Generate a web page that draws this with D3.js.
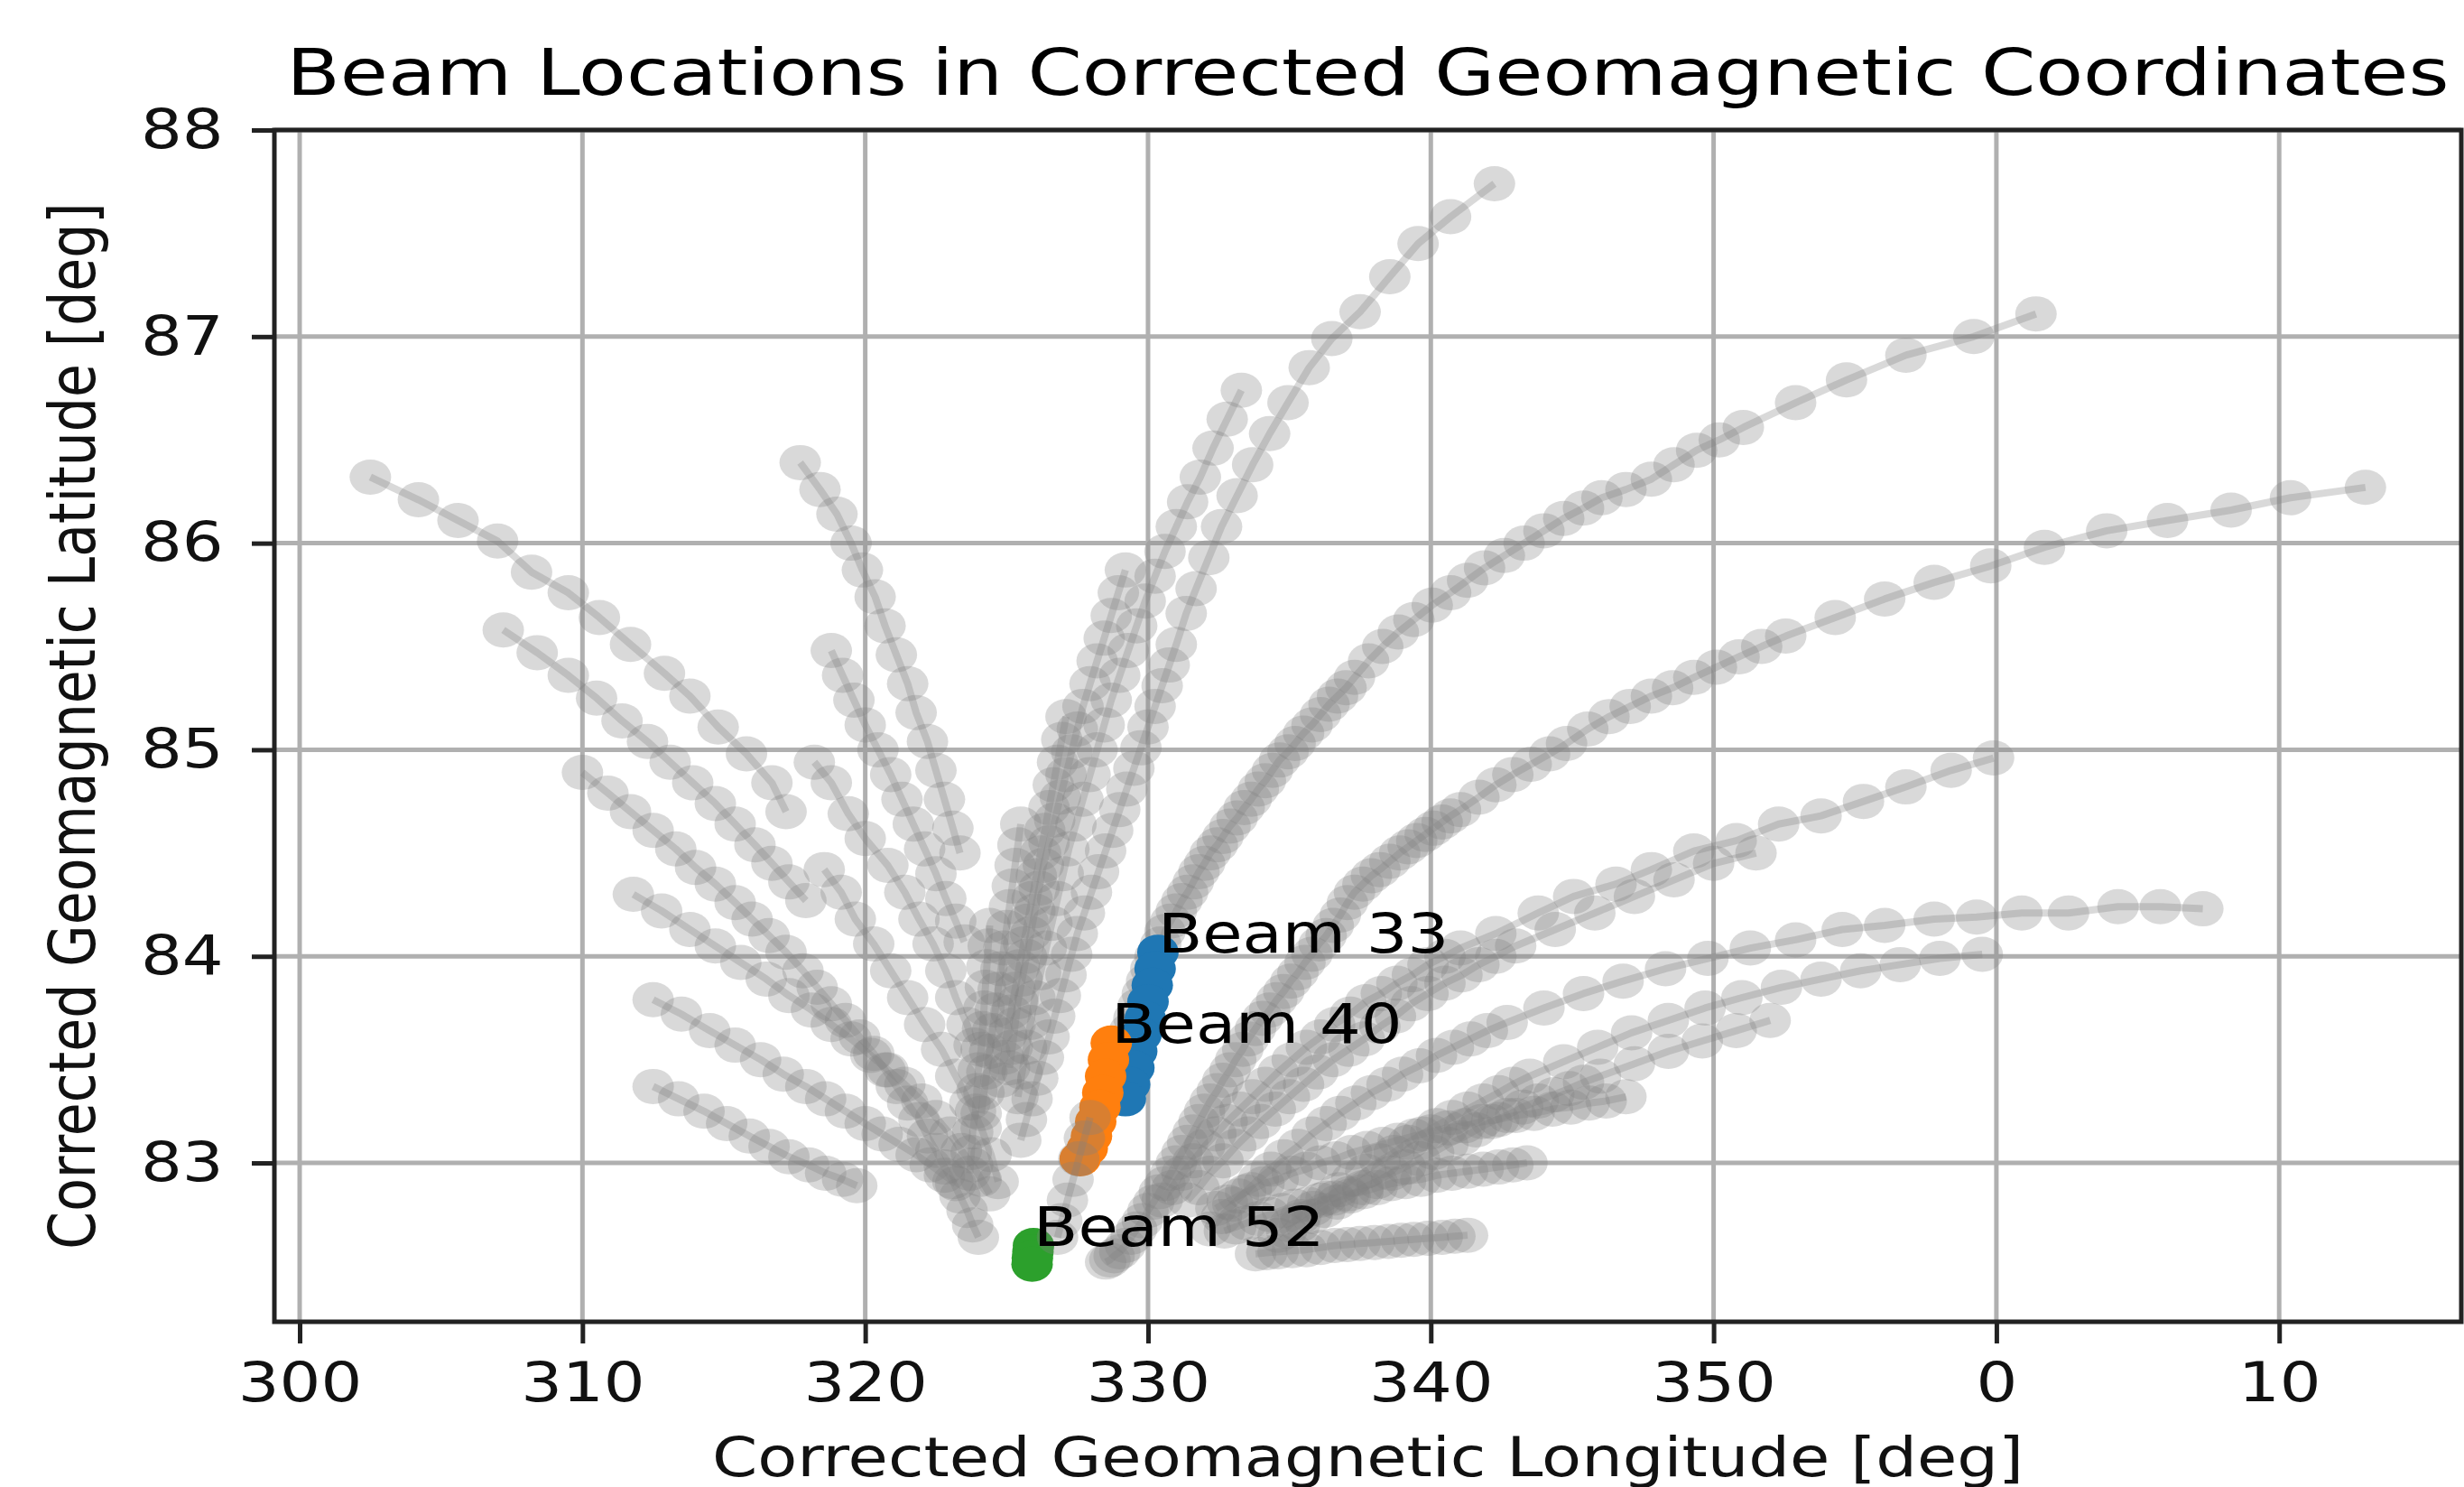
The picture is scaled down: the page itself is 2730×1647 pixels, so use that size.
<!DOCTYPE html>
<html>
<head>
<meta charset="utf-8">
<script src="https://cdn.jsdelivr.net/npm/d3@7"></script>
<style>
  body { margin: 0; background: #fff; }
  svg { display: block; }
</style>
</head>
<body>
<div id="chart"></div>
<script>
// tick values (longitude wraps past 360 -> 0, 10)
const xTicks = [300, 310, 320, 330, 340, 350, 360, 370];
const yTicks = [83, 84, 85, 86, 87, 88];

// gray beam tracks, [lon, lat]
const leftTrack1 = [[302.5,86.32],[304.2,86.21],[305.6,86.11],[307.0,86.01],[308.2,85.86],[309.5,85.76],[310.6,85.64],[311.7,85.51],[312.9,85.37],[313.8,85.26],[314.8,85.11],[315.8,84.98],[316.7,84.84],[317.2,84.70]];
const leftTrack2 = [[307.2,85.58],[308.4,85.47],[309.5,85.36],[310.5,85.25],[311.4,85.14],[312.3,85.04],[313.1,84.94],[313.9,84.84],[314.7,84.74],[315.4,84.64],[316.1,84.54],[316.7,84.45],[317.3,84.36],[317.9,84.27]];
const leftTrack3 = [[310.0,84.89],[310.9,84.79],[311.7,84.70],[312.5,84.61],[313.3,84.52],[314.0,84.43],[314.7,84.35],[315.4,84.26],[316.0,84.18],[316.6,84.10],[317.2,84.02],[317.8,83.93],[318.3,83.85],[318.8,83.77],[319.3,83.69],[319.8,83.61],[320.3,83.53],[320.7,83.45],[321.1,83.37],[321.5,83.29],[321.9,83.21],[322.2,83.13],[322.5,83.06],[322.8,82.98],[323.1,82.91],[323.35,82.84],[323.6,82.77],[323.8,82.70],[324.0,82.64]];
const leftTrack4 = [[311.8,84.30],[312.8,84.22],[313.8,84.13],[314.7,84.05],[315.6,83.97],[316.5,83.89],[317.3,83.81],[318.1,83.74],[318.8,83.67],[319.5,83.60],[320.2,83.52],[320.8,83.45],[321.4,83.38],[322.0,83.30],[322.5,83.22],[323.0,83.14],[323.4,83.06],[323.8,82.99],[324.1,82.92],[324.4,82.85]];
const leftTrack5 = [[312.5,83.79],[313.5,83.72],[314.5,83.64],[315.4,83.57],[316.3,83.50],[317.1,83.43],[317.9,83.37],[318.6,83.31],[319.3,83.25],[320.0,83.19],[320.6,83.14],[321.2,83.09],[321.8,83.04],[322.3,82.99],[322.8,82.94],[323.2,82.90]];
const leftTrack6 = [[312.5,83.37],[313.4,83.31],[314.3,83.25],[315.1,83.19],[315.9,83.13],[316.6,83.08],[317.3,83.03],[318.0,82.99],[318.6,82.95],[319.2,82.92],[319.7,82.89]];

const midTrack1 = [[317.7,86.39],[318.4,86.26],[319.0,86.14],[319.5,86.00],[319.9,85.87],[320.35,85.74],[320.7,85.60],[321.1,85.46],[321.5,85.32],[321.8,85.18],[322.2,85.04],[322.5,84.90],[322.8,84.76],[323.1,84.62],[323.35,84.50]];
const midTrack2 = [[318.8,85.48],[319.2,85.36],[319.6,85.24],[320.0,85.12],[320.45,85.00],[320.9,84.88],[321.3,84.76],[321.7,84.64],[322.1,84.52],[322.5,84.40],[322.85,84.28],[323.2,84.17],[323.5,84.07]];
const midTrack3 = [[318.2,84.94],[318.8,84.84],[319.4,84.69],[320.0,84.57],[320.8,84.44],[321.4,84.31],[321.9,84.18],[322.4,84.06],[322.85,83.93],[323.2,83.80],[323.6,83.67],[323.85,83.57]];
const midTrack4 = [[318.55,84.42],[319.15,84.31],[319.65,84.18],[320.3,84.06],[320.9,83.93],[321.5,83.80],[322.1,83.67],[322.7,83.55],[323.2,83.42],[323.7,83.29],[324.1,83.17],[324.45,83.04],[324.7,82.91]];

const steepTrack1 = [[342.25,87.74],[340.7,87.58],[339.55,87.45],[338.55,87.29],[337.5,87.12],[336.5,86.99],[335.7,86.85],[334.95,86.68],[334.3,86.53],[333.7,86.38],[333.15,86.23],[332.6,86.08],[332.15,85.93],[331.7,85.78],[331.35,85.66],[331.0,85.51],[330.75,85.41],[330.5,85.31],[330.25,85.21],[330.0,85.11],[329.75,85.01],[329.5,84.91],[329.25,84.81],[329.0,84.71],[328.75,84.61],[328.5,84.51],[328.25,84.41],[328.0,84.31],[327.75,84.21],[327.5,84.11],[327.3,84.01],[327.1,83.91],[326.9,83.81],[326.7,83.71],[326.5,83.61],[326.3,83.51],[326.1,83.41],[325.9,83.31],[325.7,83.21],[325.5,83.11]];
const steepTrack2 = [[333.3,86.74],[332.8,86.60],[332.3,86.46],[331.85,86.32],[331.4,86.20],[331.0,86.08],[330.6,85.96],[330.25,85.84],[329.9,85.72],[329.6,85.60],[329.3,85.48],[329.0,85.36],[328.7,85.24],[328.45,85.12],[328.2,85.00],[327.95,84.88],[327.7,84.76],[327.45,84.64],[327.2,84.52],[327.0,84.40],[326.8,84.28],[326.6,84.16],[326.4,84.04],[326.2,83.92],[326.0,83.80],[325.85,83.68],[325.7,83.56],[325.55,83.44],[325.4,83.32]];
const steepTrack3 = [[329.2,85.87],[328.95,85.76],[328.7,85.65],[328.45,85.54],[328.2,85.43],[327.95,85.32],[327.7,85.21],[327.5,85.10],[327.3,84.99],[327.1,84.88],[326.9,84.77],[326.7,84.66],[326.5,84.55],[326.3,84.44],[326.15,84.33],[326.0,84.22],[325.85,84.11],[325.7,84.00],[325.55,83.89],[325.4,83.78],[325.3,83.67],[325.2,83.56],[325.1,83.46]];
const steepTrack4 = [[327.1,85.16],[326.95,85.05],[326.8,84.94],[326.65,84.83],[326.5,84.72],[326.35,84.61],[326.2,84.50],[326.05,84.39],[325.9,84.28],[325.75,84.17],[325.6,84.06],[325.45,83.95],[325.3,83.84],[325.15,83.73],[325.0,83.62],[324.9,83.51],[324.8,83.40]];
const steepTrack5 = [[325.5,84.64],[325.4,84.54],[325.3,84.44],[325.2,84.34],[325.1,84.24],[325.0,84.14],[324.9,84.04],[324.8,83.94],[324.7,83.84],[324.6,83.74],[324.5,83.64],[324.4,83.54],[324.3,83.44],[324.2,83.34],[324.1,83.24]];
const steepTrack6 = [[324.4,84.15],[324.35,84.05],[324.3,83.95],[324.25,83.85],[324.2,83.75],[324.15,83.65],[324.1,83.55],[324.0,83.45],[323.95,83.35],[323.9,83.25],[323.8,83.15],[323.75,83.05],[323.7,82.95]];

const rightTrack1 = [[1.4,87.11],[359.2,87.00],[356.8,86.91],[354.7,86.79],[352.9,86.68],[351.05,86.56],[350.2,86.50],[349.4,86.45],[348.6,86.38],[347.8,86.31],[346.9,86.26],[346.05,86.22],[345.4,86.17],[344.7,86.12],[344.0,86.06],[343.3,86.00],[342.6,85.94],[341.9,85.88],[341.3,85.82],[340.7,85.76],[340.05,85.70],[339.4,85.63],[338.85,85.57],[338.3,85.50],[337.8,85.43],[337.3,85.35],[337.0,85.30],[336.7,85.26],[336.4,85.22],[336.1,85.17],[335.8,85.12],[335.5,85.08],[335.2,85.03],[334.95,84.99],[334.65,84.95],[334.4,84.90],[334.15,84.85],[333.9,84.81],[333.65,84.76],[333.4,84.72],[333.15,84.67],[332.9,84.63],[332.65,84.58],[332.45,84.54],[332.2,84.50],[332.0,84.45],[331.8,84.41],[331.6,84.36],[331.4,84.31],[331.2,84.27],[331.0,84.22],[330.8,84.17],[330.6,84.12],[330.45,84.06],[330.25,84.00],[330.1,83.94],[329.95,83.88],[329.8,83.82],[329.65,83.76],[329.5,83.70],[329.35,83.64],[329.2,83.58],[329.05,83.52],[328.95,83.46]];
const rightTrack2 = [[13.05,86.27],[10.4,86.22],[8.3,86.16],[6.05,86.11],[3.9,86.06],[1.7,85.98],[359.8,85.89],[357.8,85.81],[356.05,85.73],[354.3,85.64],[352.55,85.55],[351.7,85.50],[350.9,85.45],[350.1,85.40],[349.3,85.35],[348.55,85.30],[347.8,85.26],[347.05,85.21],[346.3,85.16],[345.55,85.10],[344.8,85.03],[344.2,84.98],[343.55,84.93],[342.9,84.88],[342.3,84.83],[341.7,84.77],[341.05,84.71],[340.7,84.68],[340.4,84.65],[340.1,84.62],[339.8,84.59],[339.5,84.56],[339.2,84.53],[338.9,84.50],[338.55,84.46],[338.2,84.42],[337.9,84.39],[337.6,84.35],[337.3,84.31],[337.05,84.26],[336.8,84.20],[336.55,84.15],[336.3,84.10],[336.05,84.06],[335.8,84.01],[335.55,83.97],[335.3,83.92],[335.05,83.88],[334.8,83.83],[334.55,83.79],[334.3,83.74],[334.05,83.70],[333.8,83.65],[333.55,83.60],[333.35,83.55],[333.1,83.50],[332.9,83.45],[332.65,83.40],[332.45,83.35],[332.2,83.30],[332.0,83.25],[331.8,83.20],[331.6,83.15],[331.4,83.10],[331.2,83.05],[331.0,83.00],[330.8,82.95],[330.6,82.90],[330.4,82.86],[330.2,82.81],[330.0,82.77],[329.8,82.72],[329.6,82.68],[329.4,82.64],[329.2,82.60],[329.0,82.57],[328.8,82.55],[328.65,82.53],[328.5,82.52]];
const rightTrack3 = [[359.9,84.96],[358.4,84.90],[356.8,84.82],[355.3,84.75],[353.8,84.68],[352.3,84.64],[350.8,84.56],[349.3,84.51],[347.8,84.42],[346.55,84.35],[345.05,84.29],[343.8,84.21],[342.3,84.11],[341.05,84.04],[340.5,84.00],[339.9,83.96],[339.35,83.91],[338.8,83.87],[338.25,83.82],[337.7,83.78],[337.15,83.72],[336.6,83.67],[336.1,83.61],[335.6,83.56],[335.1,83.50],[334.6,83.44],[334.15,83.38],[333.7,83.32],[333.25,83.26],[332.8,83.20],[332.4,83.14],[332.0,83.08],[331.6,83.01],[331.2,82.95],[330.85,82.88],[330.5,82.82]];
const rightTrack4 = [[351.5,84.50],[350.0,84.45],[348.6,84.37],[347.2,84.29],[345.8,84.21],[344.4,84.13],[343.0,84.05],[342.3,84.00],[341.7,83.96],[341.1,83.91],[340.5,83.87],[339.9,83.82],[339.3,83.77],[338.75,83.71],[338.2,83.66],[337.65,83.60],[337.1,83.55],[336.55,83.50],[336.0,83.44],[335.5,83.38],[335.0,83.32],[334.5,83.26],[334.0,83.20],[333.55,83.14],[333.1,83.08],[332.65,83.01],[332.2,82.95],[331.8,82.88],[331.4,82.82]];
const rightTrack5 = [[7.3,84.23],[5.8,84.24],[4.3,84.24],[2.55,84.21],[0.9,84.21],[359.3,84.19],[357.8,84.18],[356.05,84.15],[354.55,84.13],[352.9,84.08],[351.3,84.04],[349.8,83.99],[348.3,83.94],[346.8,83.88],[345.4,83.82],[344.0,83.75],[342.7,83.68],[342.0,83.64],[341.4,83.60],[340.8,83.56],[340.2,83.52],[339.6,83.47],[339.0,83.43],[338.45,83.38],[337.9,83.34],[337.35,83.29],[336.8,83.24],[336.3,83.19],[335.8,83.14],[335.3,83.08],[334.8,83.03],[334.35,82.97],[333.9,82.92],[333.45,82.86],[333.0,82.80],[332.6,82.74],[332.2,82.68]];
const rightTrack6 = [[359.5,84.01],[358.0,83.99],[356.6,83.96],[355.2,83.93],[353.8,83.89],[352.4,83.85],[351.0,83.80],[349.7,83.75],[348.4,83.69],[347.1,83.63],[345.9,83.56],[344.7,83.49],[343.5,83.42],[342.9,83.38],[342.4,83.34],[341.85,83.30],[341.3,83.26],[340.75,83.22],[340.2,83.18],[339.7,83.14],[339.2,83.10],[338.7,83.05],[338.2,83.01],[337.7,82.96],[337.2,82.92],[336.75,82.87],[336.3,82.83],[335.85,82.78],[335.4,82.74],[335.0,82.70],[334.6,82.65]];
const rightTrack7 = [[352.0,83.69],[350.8,83.64],[349.6,83.59],[348.4,83.54],[347.2,83.48],[346.0,83.42],[345.4,83.39],[344.9,83.36],[344.35,83.33],[343.8,83.30],[343.25,83.27],[342.7,83.23],[342.15,83.20],[341.6,83.16],[341.1,83.12],[340.6,83.09],[340.1,83.05],[339.6,83.02],[339.1,82.98],[338.6,82.95],[338.1,82.91],[337.6,82.88],[337.15,82.84],[336.7,82.81],[336.25,82.77],[335.8,82.74],[335.35,82.70],[334.9,82.67]];
const rightTrack8 = [[346.9,83.32],[346.2,83.30],[345.6,83.29],[344.95,83.27],[344.3,83.26],[343.65,83.24],[343.0,83.23],[342.4,83.21],[341.8,83.20],[341.2,83.18],[340.6,83.17],[340.0,83.15],[339.4,83.13],[338.85,83.11],[338.3,83.09],[337.75,83.07],[337.2,83.05],[336.65,83.02],[336.1,83.00],[335.6,82.97],[335.1,82.95],[334.6,82.92],[334.1,82.90],[333.65,82.87],[333.2,82.84],[332.8,82.81],[332.4,82.78]];
const rightTrack9 = [[343.4,83.00],[342.9,82.99],[342.4,82.98],[341.85,82.97],[341.3,82.96],[340.75,82.95],[340.2,82.94],[339.65,82.92],[339.1,82.91],[338.6,82.90],[338.1,82.88],[337.6,82.86],[337.1,82.85],[336.6,82.83],[336.1,82.82],[335.65,82.80],[335.2,82.79],[334.75,82.77],[334.3,82.75],[333.9,82.73],[333.5,82.71],[333.1,82.69],[332.7,82.67]];
const rightTrack10 = [[341.3,82.65],[340.85,82.645],[340.4,82.64],[339.9,82.635],[339.4,82.63],[338.95,82.625],[338.5,82.62],[338.0,82.615],[337.5,82.61],[337.05,82.605],[336.6,82.60],[336.1,82.59],[335.6,82.58],[335.1,82.575],[334.6,82.57],[334.2,82.565],[333.8,82.56]];

// short track plotted after the highlighted beams (tints the foot of beam 40)
const shortTrack = [[327.95,83.22],[327.75,83.12],[327.55,83.02],[327.35,82.92],[327.15,82.82],[326.95,82.72],[326.8,82.64]];

// highlighted beams
const beam33Track = [[330.35,84.02],[330.25,83.94],[330.15,83.86],[330.0,83.78],[329.9,83.70],[329.75,83.62],[329.6,83.54],[329.5,83.46],[329.35,83.38],[329.2,83.31]];
const beam40Track = [[328.7,83.58],[328.6,83.50],[328.5,83.42],[328.4,83.34],[328.3,83.27],[328.15,83.20],[328.0,83.13],[327.85,83.07],[327.6,83.02]];
const beam52Track = [[325.95,82.60],[325.93,82.57],[325.91,82.54],[325.9,82.51]];
const beamLabels = ['Beam 33', 'Beam 40', 'Beam 52'];

const grayTracks = [
  leftTrack1, leftTrack2, leftTrack3, leftTrack4, leftTrack5, leftTrack6,
  midTrack1, midTrack2, midTrack3, midTrack4,
  steepTrack1, steepTrack2, steepTrack3, steepTrack4, steepTrack5, steepTrack6,
  rightTrack1, rightTrack2, rightTrack3, rightTrack4, rightTrack5,
  rightTrack6, rightTrack7, rightTrack8, rightTrack9, rightTrack10,
];
const beamTracks = [beam33Track, beam40Track, beam52Track];

// ---- drawing ----
const width = 2730;
const height = 1647;
const plot = { left: 304, right: 2727, top: 144, bottom: 1464 };
const STRETCH = 1.2; // the original is wider than tall
const FONT = "'DejaVu Sans', sans-serif";
const beamColors = ['#1f77b4', '#ff7f0e', '#2ca02c'];

const unwrap = (lon) => (lon < 180 ? lon + 360 : lon);

const svg = d3.select('#chart').append('svg').attr('width', width).attr('height', height);
svg.append('rect').attr('width', width).attr('height', height).attr('fill', '#fff');

const x = d3.scaleLinear().domain([299.106, 376.44]).range([plot.left, plot.right]);
const y = d3.scaleLinear().domain([82.231, 88]).range([plot.bottom, plot.top]);

// grid
const grid = svg.append('g').attr('stroke', '#b0b0b0').attr('stroke-width', 5);
grid.selectAll('line.gx').data(xTicks).join('line').attr('class', 'gx')
  .attr('x1', (d) => x(d)).attr('x2', (d) => x(d))
  .attr('y1', plot.top).attr('y2', plot.bottom);
grid.selectAll('line.gy').data(yTicks).join('line').attr('class', 'gy')
  .attr('x1', plot.left).attr('x2', plot.right)
  .attr('y1', (d) => y(d)).attr('y2', (d) => y(d));

svg.append('clipPath').attr('id', 'plot-clip').append('rect')
  .attr('x', plot.left).attr('y', plot.top)
  .attr('width', plot.right - plot.left).attr('height', plot.bottom - plot.top);
const layer = svg.append('g').attr('clip-path', 'url(#plot-clip)');

const line = d3.line().x((d) => x(unwrap(d[0]))).y((d) => y(d[1]));

const drawTrack = (pts, color, opacity) => {
  const g = layer.append('g');
  g.append('path')
    .datum(pts)
    .attr('d', line)
    .attr('fill', 'none')
    .attr('stroke', color)
    .attr('stroke-opacity', opacity)
    .attr('stroke-width', 8)
    .attr('stroke-linejoin', 'round');
  g.selectAll('ellipse')
    .data(pts)
    .join('ellipse')
    .attr('cx', (d) => x(unwrap(d[0])))
    .attr('cy', (d) => y(d[1]))
    .attr('rx', 23)
    .attr('ry', 19.5)
    .attr('fill', color)
    .attr('fill-opacity', opacity);
};

grayTracks.forEach((t) => drawTrack(t, '#808080', 0.3));
beamTracks.forEach((t, i) => drawTrack(t, beamColors[i], 1));
drawTrack(shortTrack, '#808080', 0.3);

// beam labels at the first point of each highlighted beam
beamTracks.forEach((t, i) => {
  svg.append('text')
    .attr('transform', `translate(${x(unwrap(t[0][0]))},${y(t[0][1])}) scale(${STRETCH},1)`)
    .attr('font-family', FONT)
    .attr('font-size', 60)
    .attr('fill', '#000')
    .text(beamLabels[i]);
});

// axes
const xAxis = d3.axisBottom(x).tickValues(xTicks).tickSize(24).tickPadding(21).tickFormat((d) => d % 360);
const gx = svg.append('g').attr('transform', `translate(0,${plot.bottom})`).call(xAxis);
gx.select('.domain').remove();
gx.attr('font-family', FONT).attr('font-size', 60);
gx.selectAll('line').attr('stroke', '#222').attr('stroke-width', 5);
gx.selectAll('text').attr('fill', '#111').attr('transform', `scale(${STRETCH},1)`);

const yAxis = d3.axisLeft(y).tickValues(yTicks).tickSize(25).tickPadding(22).tickFormat(d3.format('d'));
const gy = svg.append('g').attr('transform', `translate(${plot.left},0)`).call(yAxis);
gy.select('.domain').remove();
gy.attr('font-family', FONT).attr('font-size', 60);
gy.selectAll('line').attr('stroke', '#222').attr('stroke-width', 5);
gy.selectAll('text').attr('fill', '#111').attr('transform', `scale(${STRETCH},1)`);

// spines
svg.append('rect')
  .attr('x', plot.left).attr('y', plot.top)
  .attr('width', plot.right - plot.left).attr('height', plot.bottom - plot.top)
  .attr('fill', 'none').attr('stroke', '#222').attr('stroke-width', 5);

const cx = (plot.left + plot.right) / 2;
const cy = (plot.top + plot.bottom) / 2;

svg.append('text')
  .attr('transform', `translate(${cx},105) scale(${STRETCH},1)`)
  .attr('text-anchor', 'middle')
  .attr('font-family', FONT)
  .attr('font-size', 72)
  .attr('fill', '#000')
  .text('Beam Locations in Corrected Geomagnetic Coordinates');

svg.append('text')
  .attr('transform', `translate(${cx},1635) scale(${STRETCH},1)`)
  .attr('text-anchor', 'middle')
  .attr('font-family', FONT)
  .attr('font-size', 60)
  .attr('fill', '#111')
  .text('Corrected Geomagnetic Longitude [deg]');

svg.append('text')
  .attr('transform', `translate(105,${cy}) scale(${STRETCH},1) rotate(-90)`)
  .attr('text-anchor', 'middle')
  .attr('font-family', FONT)
  .attr('font-size', 60)
  .attr('fill', '#111')
  .text('Corrected Geomagnetic Latitude [deg]');
</script>
</body>
</html>
